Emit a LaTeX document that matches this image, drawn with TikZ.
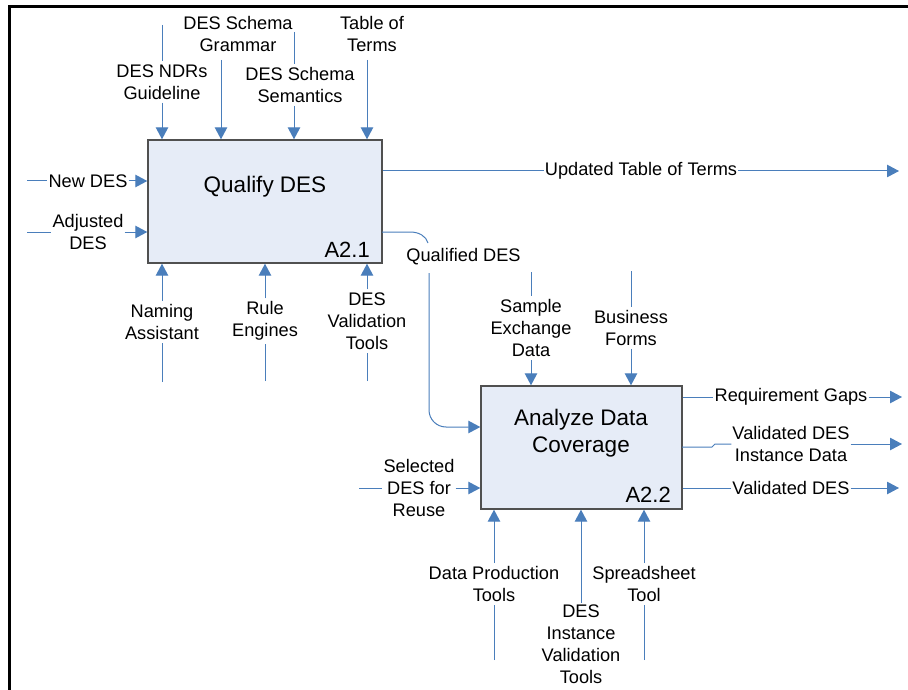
\documentclass[tikz,border=0pt]{standalone}
\usepackage{fontspec}
\setmainfont{Liberation Sans}
\usetikzlibrary{arrows.meta}
\definecolor{lnblue}{HTML}{4A7EBB}
\definecolor{boxfill}{HTML}{E6ECF7}
\definecolor{boxline}{HTML}{505050}
\tikzset{
  ln/.style={draw=lnblue, line width=1pt},
  arr/.style={ln, -{Triangle[length=12pt,width=12.5pt]}},
  lbl/.style={font=\fontsize{18.2}{22}\selectfont, align=center, inner xsep=1pt, inner ysep=3pt},
  procbox/.style={draw=boxline, fill=boxfill, line width=1.4pt, inner sep=0pt},
  ttl/.style={font=\fontsize{22.5}{27}\selectfont, align=center, inner sep=0pt},
  num/.style={font=\fontsize{22}{26}\selectfont, inner sep=0pt, anchor=base east}
}
\begin{document}
\begin{tikzpicture}[x=1pt,y=-1pt]
\useasboundingbox (0,0) rectangle (908,690);
% frame
\draw[line width=2.7pt] (9.7,690) -- (9.7,6.7) -- (908,6.7);

% boxes
\node[procbox, minimum width=234pt, minimum height=123pt] (b1) at (265,201.5) {};
\node[ttl] (t1) at (265,187) {Qualify DES};
\node[num] (n1) at (370,257) {A2.1};
\node[procbox, minimum width=201pt, minimum height=123pt] (b2) at (581.5,447.5) {};
\node[ttl] (t2) at (581,433.5) {Analyze Data\\Coverage};
\node[num] (n2) at (671,502) {A2.2};

% ---- box 1 controls
\coordinate (c1) at (162,25);
\node[lbl] (ndrs) at (162,82) {DES NDRs\\Guideline};
\draw[ln] (c1) -- (ndrs.north);
\draw[arr] (ndrs.south) -- (ndrs.south |- b1.north);

\node[lbl] (gram) at (238,34) {DES Schema\\Grammar};
\coordinate (c2) at (221,60);
\draw[arr] (c2) -- (c2 |- b1.north);

\coordinate (c3) at (294,32);
\node[lbl] (sem) at (300,85) {DES Schema\\Semantics};
\draw[ln] (c3) -- (sem.north -| c3);
\draw[arr] (sem.south -| c3) -- (c3 |- b1.north);

\node[lbl] (tab) at (372,34) {Table of\\Terms};
\coordinate (c4) at (367,60);
\draw[arr] (c4) -- (c4 |- b1.north);

% ---- box 1 inputs
\coordinate (i1) at (27,181);
\node[lbl] (newdes) at (88,181) {New DES};
\draw[ln] (i1) -- (newdes.west);
\draw[arr] (newdes.east) -- (newdes.east -| b1.west);

\coordinate (i2) at (27,232);
\node[lbl] (adj) at (88,232) {Adjusted\\DES};
\draw[ln] (i2) -- (i2 -| adj.west);
\draw[arr] (i2 -| adj.east) -- (i2 -| b1.west);

% ---- box 1 mechanisms
\node[lbl] (nam) at (162,322) {Naming\\Assistant};
\coordinate (m1) at (162,382);
\draw[ln] (m1) -- (nam.south);
\draw[arr] (nam.north) -- (nam.north |- b1.south);

\node[lbl] (rule) at (265,321) {Rule\\Engines};
\coordinate (m2) at (265,381);
\draw[ln] (m2) -- (rule.south);
\draw[arr] (rule.north) -- (rule.north |- b1.south);

\node[lbl] (dvt) at (367,321) {DES\\Validation\\Tools};
\coordinate (m3) at (367,381);
\draw[ln] (m3) -- (dvt.south);
\draw[arr] (dvt.north) -- (dvt.north |- b1.south);

% ---- box 1 outputs
\node[lbl] (utt) at (641,171) {Updated Table of Terms};
\coordinate (o1) at (899,171);
\draw[ln] (utt.west -| b1.east) -- (utt.west);
\draw[arr] (utt.east) -- (o1);

\node[lbl] (qd) at (463.5,257) {Qualified DES};
\coordinate (q1) at (382,232);
\coordinate (q2) at (429,273);
\coordinate (q3) at (429,427);
\draw[ln] (q1) -- (410,232) .. controls (419,232) and (426,236) .. (428,243);
\draw[arr, rounded corners=17pt] (q2) -- (q3) -- (q3 -| b2.west);

% ---- box 2 inputs
\coordinate (i3) at (359,488);
\node[lbl] (sel) at (419,488) {Selected\\DES for\\Reuse};
\draw[ln] (i3) -- (i3 -| sel.west);
\draw[arr] (i3 -| sel.east) -- (i3 -| b2.west);

% ---- box 2 controls
\coordinate (c5) at (531,272);
\node[lbl] (sed) at (531,328) {Sample\\Exchange\\Data};
\draw[ln] (c5) -- (sed.north);
\draw[arr] (sed.south) -- (sed.south |- b2.north);

\coordinate (c6) at (631,271);
\node[lbl] (bf) at (631,328) {Business\\Forms};
\draw[ln] (c6) -- (bf.north);
\draw[arr] (bf.south) -- (bf.south |- b2.north);

% ---- box 2 outputs
\node[lbl] (rg) at (791,397) {Requirement Gaps};
\coordinate (o2) at (902,397);
\draw[ln] (rg.west -| b2.east) -- (rg.west);
\draw[arr] (rg.east) -- (o2);

\node[lbl] (vdid) at (791,444) {Validated DES\\Instance Data};
\coordinate (o3) at (902,444);
\coordinate (s1) at (682,447);
\draw[ln] (s1) -- (712,447) -- (715,444) -- (vdid.west);
\draw[arr] (vdid.east) -- (o3);

\node[lbl] (vd) at (791,488) {Validated DES};
\coordinate (o4) at (899,488);
\draw[ln] (vd.west -| b2.east) -- (vd.west);
\draw[arr] (vd.east) -- (o4);

% ---- box 2 mechanisms
\node[lbl] (dpt) at (494,584) {Data Production\\Tools};
\coordinate (m4) at (494,660);
\draw[ln] (m4) -- (dpt.south);
\draw[arr] (dpt.north) -- (dpt.north |- b2.south);

\node[lbl] (divt) at (581,644) {DES\\Instance\\Validation\\Tools};
\coordinate (m5) at (581,603);
\draw[arr] (m5) -- (m5 |- b2.south);

\node[lbl] (sst) at (644,584) {Spreadsheet\\Tool};
\coordinate (m6) at (644,660);
\draw[ln] (m6) -- (sst.south);
\draw[arr] (sst.north) -- (sst.north |- b2.south);
\end{tikzpicture}
\end{document}
